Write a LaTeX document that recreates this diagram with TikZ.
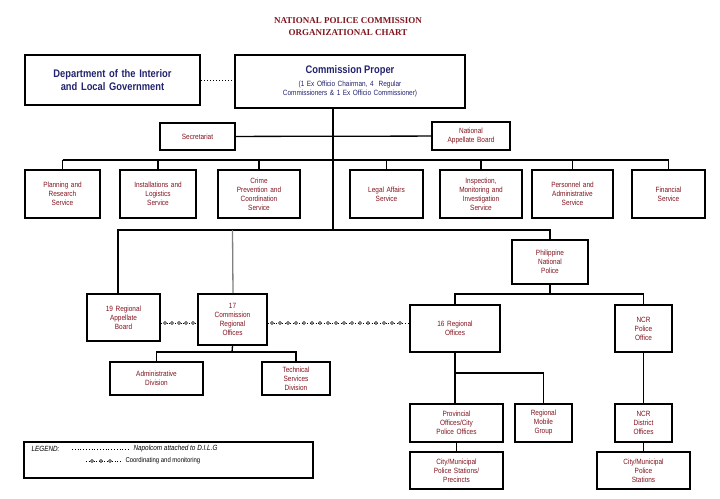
\documentclass[tikz,border=0pt]{standalone}
\usepackage{fontspec}
\setmainfont{Liberation Serif}
\setsansfont[FakeStretch=0.85]{Liberation Sans}
\usetikzlibrary{positioning}
\definecolor{txtred}{RGB}{128,20,30}
\definecolor{txtblue}{RGB}{35,35,110}
\tikzset{
  unit/.style={draw, line width=2pt, align=center, inner sep=1pt,
    font=\sffamily\fontsize{7.6}{9}\selectfont, text=txtred},
  head/.style={unit, font=\sffamily\bfseries\fontsize{11}{13}\selectfont, text=txtblue},
  link/.style={line width=1.3pt},
  ring/.style={circle, draw, inner sep=0pt, minimum size=3pt, line width=0.5pt, fill=white},
}
\newcommand{\ubox}[6][unit]{% style, name, x1, y1, x2, y2 ... text
  \node[#1, minimum width={#5-#3}, minimum height={#6-#4}, text width={#5-#3-4}]
    (#2) at ({(#3+#5)/2},{(#4+#6)/2})}
\begin{document}
\begin{tikzpicture}[x=1pt,y=-1pt]
  \useasboundingbox (0,0) rectangle (720,498);
  % title
  \node[font=\bfseries\fontsize{9}{12}\selectfont, text=txtred, align=center] (title) at (348,27)
    {NATIONAL POLICE COMMISSION\\ORGANIZATIONAL CHART};
  % top level
  \ubox[head]{dilg}{25}{55}{200}{105}{Department of the Interior\\and Local Government};
  \node[unit, minimum width=230, minimum height=53, text width=226] (cp) at (350,81.5)
    {{\sffamily\bfseries\fontsize{11}{13}\selectfont\color{txtblue}Commission Proper}\\[4pt]
     {\color{txtblue}(1 Ex Officio Chairman, 4 \ Regular\\Commissioners \& 1 Ex Officio Commissioner)}};
  \ubox{sec}{160}{123}{235}{150}{Secretariat};
  \ubox{nab}{432}{122}{510}{150}{National\\Appellate Board};
  % services
  \ubox{plan}{25}{170}{100}{218}{Planning and\\Research\\Service};
  \ubox{inst}{120}{170}{196}{218}{Installations and\\Logistics\\Service};
  \ubox{crime}{218}{170}{300}{218}{Crime\\Prevention and\\Coordination\\Service};
  \ubox{legal}{350}{170}{423}{218}{Legal Affairs\\Service};
  \ubox{insp}{440}{170}{522}{218}{Inspection,\\Monitoring and\\Investigation\\Service};
  \ubox{pers}{532}{170}{613}{218}{Personnel and\\Administrative\\Service};
  \ubox{fin}{632}{170}{705}{218}{Financial\\Service};
  % regional level
  \ubox{rab}{87}{294}{160}{341}{19 Regional\\Appellate\\Board};
  \ubox{cro}{198}{294}{267}{345}{17\\Commission\\Regional\\Offices};
  \ubox{pnp}{512}{240}{588}{284}{Philippine\\National\\Police};
  \ubox{ro}{410}{305}{500}{352}{16 Regional\\Offices};
  \ubox{ncr}{615}{305}{672}{352}{NCR\\Police\\Office};
  \ubox{adm}{110}{362}{203}{395}{Administrative\\Division};
  \ubox{tech}{262}{362}{330}{395}{Technical\\Services\\Division};
  \ubox{prov}{410}{404}{503}{442}{Provincial\\Offices/City\\Police Offices};
  \ubox{rmg}{515}{404}{572}{442}{Regional\\Mobile\\Group};
  \ubox{ncrd}{615}{404}{672}{442}{NCR\\District\\Offices};
  \ubox{city}{410}{452}{503}{489}{City/Municipal\\Police Stations/\\Precincts};
  \ubox{cityn}{597}{452}{690}{489}{City/Municipal\\Police\\Stations};
  % legend
  \ubox{legend}{24}{442}{313}{478}{};
  \node[font=\sffamily\itshape\fontsize{7.5}{8}\selectfont, anchor=west] (lgd) at (28,449) {LEGEND:};
  \node[font=\sffamily\itshape\fontsize{7.5}{8}\selectfont, anchor=west] (napo) at (130,449) {Napolcom attached to D.I.L.G};
  \node[font=\sffamily\fontsize{7}{8}\selectfont, anchor=west] (coor) at (122,461) {Coordinating and monitoring};
  \coordinate (ldot) at (72,449);
  \draw[dotted, line width=0.8pt] (ldot) -- (napo.west);
  \coordinate (lcir) at (86,461);
  \draw[dotted, line width=0.6pt] (lcir) -- (coor.west);
  \foreach \x in {92,101,110} \node[ring] at (\x,461) {};
  % junctions
  \coordinate (jsec) at (333,136);
  \coordinate (jsrv) at (333,160);
  \coordinate (jreg) at (333,230);
  \coordinate (jpnp) at (550,294);
  \coordinate (jcro) at (232,352);
  \coordinate (jro) at (455,373);
  \coordinate (jco) at (0,323);
  % connectors
  \draw[dotted, line width=1pt] (dilg) -- (cp.west |- dilg);
  \draw[link] (cp.south -| jsec) -- (jreg);
  \draw[link] (sec) -- (nab);
  \foreach \s in {plan,inst,crime,legal,insp,pers,fin}
    \draw[link] (\s.north) -- (\s.north |- jsrv);
  \draw[link] (plan.north |- jsrv) -- (fin.north |- jsrv);
  \draw[link] (rab.north -| 118,0) |- (pnp.north |- jreg) -- (pnp.north);
  \draw[line width=1.3pt, gray] (cro.north -| 233,0) -- (cro.north |- jreg);
  \draw[link] (pnp.south) -- (jpnp);
  \draw[link] (ro.north) |- (jpnp) -| (ncr.north);
  \draw[link] (cro.south) -- (jcro);
  \draw[link] (adm.north) |- (jcro) -| (tech.north);
  \draw[link] (ro.south) -- (prov.north -| ro.south);
  \draw[link] (ro.south |- jro) -| (rmg.north);
  \draw[link] (prov) -- (city);
  \draw[link] (ncr) -- (ncrd);
  \draw[link] (ncrd) -- (cityn);
  % coordinating links
  \draw[dotted, line width=0.8pt] (rab.east |- jco) -- (cro.west |- jco);
  \draw[dotted, line width=0.8pt] (cro.east |- jco) -- (ro.west |- jco);
  \foreach \x in {165,172,...,195} \node[ring] at (\x,323) {};
  \foreach \x in {272,280,...,405} \node[ring] at (\x,323) {};
\end{tikzpicture}
\end{document}
